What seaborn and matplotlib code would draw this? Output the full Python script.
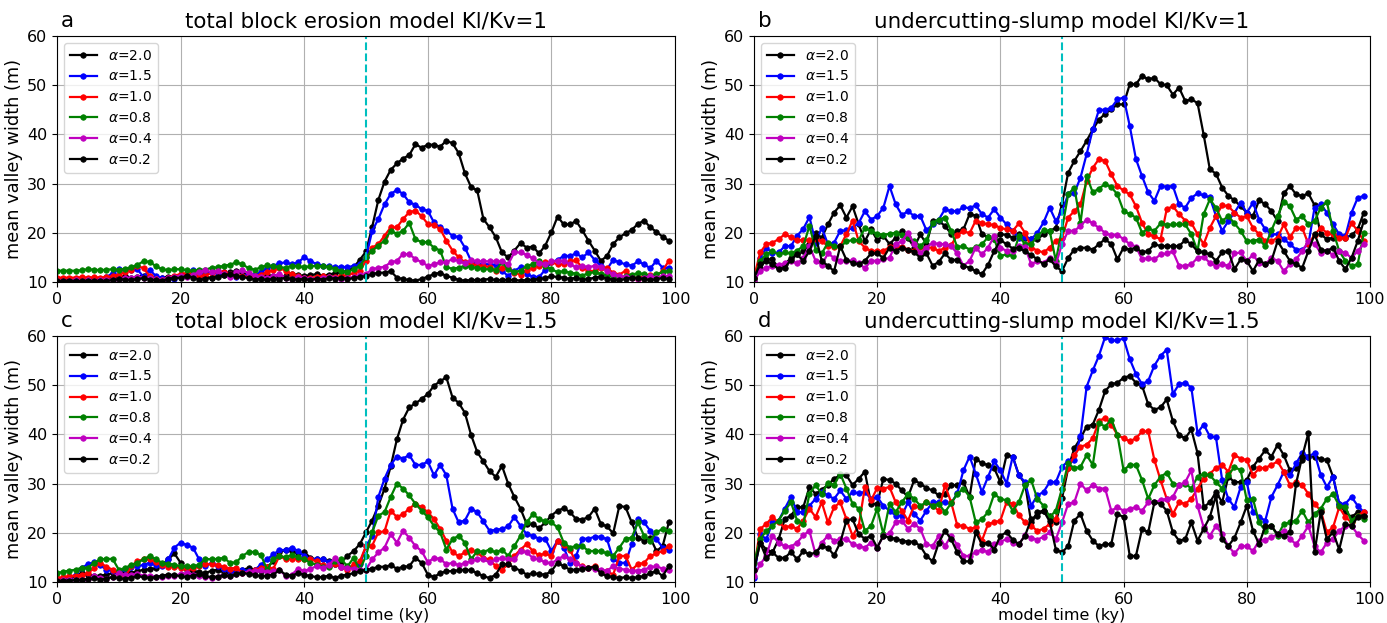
import matplotlib
matplotlib.use("Agg")
import matplotlib.pyplot as plt
import seaborn as sns

# ---------------- data ----------------
TIME = list(range(100))  # model time (ky)
LABELS = [r'$\alpha$=2.0', r'$\alpha$=1.5', r'$\alpha$=1.0',
          r'$\alpha$=0.8', r'$\alpha$=0.4', r'$\alpha$=0.2']
COLORS = ['k', 'b', 'r', 'g', 'm', 'k']
TITLES = ['total block erosion model Kl/Kv=1', 'undercutting-slump model Kl/Kv=1',
          'total block erosion model Kl/Kv=1.5', 'undercutting-slump model Kl/Kv=1.5']
LETTERS = ['a', 'b', 'c', 'd']

# panel a
A20 = [10.4,10.3,10.4,10.3,10.5,10.4,10.6,10.5,10.7,10.9,
       11.0,11.2,10.9,11.1,11.3,11.0,10.8,10.9,11.1,11.0,
       11.2,11.5,12.0,11.3,11.0,10.9,11.2,11.5,12.0,12.2,
       11.8,11.2,10.8,11.0,11.4,11.2,11.0,11.3,11.6,11.4,
       11.2,11.4,11.6,11.3,11.5,11.8,12.0,12.2,13.0,14.5,
       16.2,21.2,26.7,30.4,32.8,34.1,35.1,35.8,38.0,37.3,
       37.9,37.9,37.5,38.7,38.2,36.2,32.1,29.3,28.6,22.8,
       21.1,19.1,16.0,15.0,16.4,17.9,17.0,17.2,15.8,17.4,
       20.1,23.3,21.7,21.7,22.4,20.5,18.4,16.4,14.3,15.3,
       17.7,19.1,19.9,20.6,21.8,22.5,21.1,20.2,19.2,18.4]
A15 = [10.3,10.3,10.4,10.3,10.4,10.5,10.4,10.6,11.0,11.8,
       12.6,12.5,12.4,12.6,11.0,12.5,11.2,10.8,10.6,10.7,
       11.0,11.5,12.4,11.2,11.8,12.0,11.8,12.0,11.6,11.0,
       11.2,11.6,11.4,12.0,12.8,13.3,13.8,14.0,13.6,14.0,
       15.0,14.3,13.6,13.3,13.2,13.0,13.1,13.0,13.3,13.6,
       15.0,20.4,22.8,25.8,27.9,28.7,27.9,26.2,25.7,24.8,
       24.5,22.1,21.1,20.4,19.4,19.1,17.0,14.3,13.6,13.6,
       13.6,13.4,12.3,11.2,12.3,13.0,11.6,11.1,11.0,12.5,
       14.0,14.5,15.3,15.3,15.8,15.0,16.0,14.5,13.3,12.6,
       14.5,14.0,13.6,13.3,14.2,13.6,12.8,14.3,12.9,12.9]
A10 = [10.9,10.9,10.9,10.9,11.0,10.9,11.0,10.9,11.0,11.2,
       11.5,12.0,12.4,13.3,12.8,11.2,10.6,10.5,10.9,11.3,
       11.6,11.8,11.9,11.2,11.4,11.8,12.2,12.0,11.6,11.3,
       11.2,11.0,11.2,11.5,12.0,12.4,12.8,12.3,11.6,11.2,
       10.9,10.8,11.0,11.2,11.1,11.0,11.2,11.4,11.8,12.3,
       14.3,17.0,17.7,19.4,21.1,21.1,22.8,24.2,24.5,23.4,
       21.8,21.5,20.8,18.4,16.4,15.0,14.0,13.6,13.4,13.3,
       13.0,12.3,12.8,12.8,11.9,11.5,12.4,12.9,13.3,14.0,
       14.0,13.6,13.6,14.3,14.4,12.9,12.3,12.2,12.9,12.8,
       11.9,11.5,12.3,11.0,10.6,11.2,11.5,11.2,12.3,14.3]
A08 = [12.3,12.3,12.3,12.3,12.4,12.6,12.5,12.4,12.5,12.6,
       12.5,12.7,13.0,13.5,14.2,14.1,13.2,12.6,12.4,12.6,
       12.6,12.4,12.3,12.5,12.5,12.9,13.0,13.3,13.5,14.0,
       13.6,12.8,12.5,13.0,13.4,13.2,13.0,12.9,13.3,13.2,
       13.0,13.2,13.3,13.2,13.0,12.7,12.2,12.0,12.6,13.3,
       15.0,16.4,17.4,18.4,20.4,19.8,20.4,22.0,18.7,18.1,
       18.1,17.0,16.4,13.0,12.7,12.9,13.3,13.0,12.9,12.6,
       12.6,12.4,14.0,12.6,12.0,12.3,13.3,13.6,14.3,13.2,
       12.6,12.0,12.2,11.9,11.7,11.3,11.8,12.0,11.6,11.4,
       11.0,10.7,11.2,11.5,11.8,11.6,11.3,11.6,12.0,12.3]
A04 = [10.3,10.3,10.3,10.4,10.3,10.4,10.3,10.4,10.5,10.5,
       10.6,10.8,10.9,11.1,10.9,10.8,10.6,10.5,10.8,11.1,
       11.3,11.0,11.5,12.0,12.4,12.0,12.2,11.6,11.0,12.0,
       12.4,11.8,11.3,11.0,10.8,11.2,11.6,10.9,10.7,11.0,
       10.8,10.6,10.7,10.9,11.0,10.8,10.6,10.9,11.0,11.4,
       11.6,12.6,12.9,13.1,14.0,14.3,15.7,15.6,14.7,14.0,
       13.3,13.6,14.0,14.0,14.7,14.3,13.8,14.4,14.2,14.2,
       14.2,14.2,14.2,13.6,16.0,16.0,15.5,14.8,13.9,13.6,
       14.2,14.3,14.3,13.6,13.0,13.3,13.0,13.3,13.0,12.3,
       11.6,11.3,11.0,10.9,10.6,10.9,11.2,10.9,11.2,11.2]
A02 = [10.2,10.2,10.3,10.2,10.2,10.3,10.2,10.3,10.2,10.4,
       10.6,10.5,10.4,10.6,10.8,10.5,10.4,10.3,10.6,10.9,
       10.8,11.3,10.9,10.5,10.6,10.9,11.1,11.4,11.6,11.2,
       11.0,10.8,10.5,10.6,10.4,10.7,10.5,10.9,10.6,10.5,
       10.6,10.4,10.7,10.5,10.8,10.7,10.9,10.6,10.8,11.0,
       11.2,11.6,11.9,11.9,12.2,10.9,10.6,10.4,10.3,10.6,
       11.1,11.6,11.9,11.2,10.9,10.4,10.3,10.4,10.4,10.5,
       10.6,10.4,10.4,10.5,10.4,10.3,10.4,10.5,10.6,10.8,
       11.2,11.0,10.9,10.6,10.9,10.5,10.6,10.9,11.1,10.7,
       10.5,10.4,10.6,10.9,10.8,10.6,10.4,10.6,10.8,10.6]

# panel b
B20 = [10.9,12.9,14.6,14.6,12.8,13.6,14.9,15.6,16.3,17.7,
       20.0,19.0,21.7,24.1,25.6,23.1,25.4,21.7,18.3,20.7,
       18.5,19.4,17.7,19.0,20.4,19.0,17.0,19.7,17.7,22.4,
       22.4,21.4,19.8,20.4,20.7,23.8,23.5,19.7,19.1,18.7,
       19.7,19.6,19.0,19.7,19.0,18.7,18.7,19.7,20.4,21.0,
       25.8,32.2,34.6,36.6,38.7,41.0,43.0,44.2,45.1,46.1,
       46.1,50.2,50.2,51.9,51.2,51.5,50.2,50.0,48.1,49.5,
       46.8,47.1,46.4,39.9,32.9,32.0,29.2,27.5,26.6,25.4,
       24.1,23.4,26.6,25.8,24.4,22.4,28.0,29.5,27.8,27.5,
       28.0,25.6,19.7,18.7,19.0,19.3,19.0,19.5,20.7,24.1]
B15 = [10.9,14.9,17.0,15.8,16.0,17.3,17.3,19.4,20.8,23.2,
       18.0,21.0,17.7,18.0,20.4,20.5,21.0,22.0,24.4,22.7,
       23.4,25.1,29.5,25.8,23.6,24.4,23.4,23.4,20.5,21.7,
       22.7,24.8,24.4,24.4,25.2,25.0,25.6,23.8,23.1,24.8,
       23.1,21.7,20.4,19.0,19.1,18.7,20.0,22.1,25.1,22.4,
       24.4,27.8,28.1,31.2,36.0,41.0,45.0,45.0,45.4,47.1,
       47.5,41.7,35.0,31.5,28.2,26.5,29.5,29.4,29.5,25.8,
       25.1,27.1,28.0,27.6,27.2,23.4,20.4,22.4,24.1,26.1,
       24.1,26.1,22.7,20.7,19.7,19.7,18.7,17.7,16.6,16.6,
       17.7,25.1,25.8,24.1,21.7,19.7,19.3,24.1,27.1,27.5]
B10 = [10.9,16.0,17.7,18.0,18.7,19.7,19.1,18.5,18.5,18.5,
       18.7,18.3,17.3,17.1,17.3,19.7,22.5,18.3,17.0,16.3,
       16.3,16.3,17.1,17.3,17.1,16.6,16.4,17.1,17.0,17.0,
       16.3,17.0,17.5,19.5,20.4,19.9,22.5,22.0,21.7,21.6,
       21.0,20.7,20.4,21.9,20.0,17.0,16.4,16.0,17.0,18.3,
       19.0,23.1,24.4,25.8,30.5,33.2,35.0,34.6,31.9,29.5,
       28.6,27.8,25.4,22.0,19.7,19.3,18.7,24.8,25.4,23.8,
       22.5,22.0,19.7,17.7,21.0,23.4,25.6,25.4,24.1,23.1,
       23.4,21.0,19.7,18.3,18.3,19.0,21.7,19.1,21.0,21.0,
       17.7,19.6,21.0,20.0,19.7,19.0,19.0,22.0,20.4,18.3]
B08 = [10.5,14.3,15.6,16.3,15.6,16.0,15.8,16.4,17.3,21.4,
       16.6,15.8,18.0,17.3,17.1,18.3,18.5,18.5,21.0,20.4,
       19.8,19.6,19.8,20.0,19.6,19.1,18.3,17.3,18.5,22.0,
       22.7,23.1,20.4,17.1,17.3,16.6,17.1,17.7,19.1,18.7,
       15.3,15.6,15.3,19.3,17.7,17.7,19.3,20.5,20.4,14.3,
       20.7,27.8,29.2,22.0,31.5,28.2,29.0,29.9,29.3,27.8,
       24.4,23.8,23.1,20.0,20.9,20.4,21.9,21.6,21.7,21.7,
       21.7,19.7,16.3,23.8,26.8,25.1,22.4,23.4,21.9,20.4,
       18.3,18.4,18.6,17.3,20.5,23.4,26.3,25.4,22.7,23.4,
       21.7,22.4,25.1,26.3,20.4,16.3,14.3,13.3,13.6,20.0]
B04 = [10.2,12.2,12.9,13.3,13.5,13.8,14.2,13.8,14.9,17.3,
       14.3,13.5,15.8,14.9,14.3,14.3,14.4,13.8,12.8,14.3,
       14.3,14.6,14.9,17.7,18.3,20.0,17.7,15.8,17.0,18.0,
       17.7,17.7,17.3,15.8,13.3,14.3,17.0,15.6,17.0,19.3,
       17.0,16.3,16.3,17.3,17.1,13.6,14.3,13.9,14.9,13.6,
       17.7,20.4,20.4,21.4,22.7,21.9,21.0,20.0,19.5,19.6,
       18.7,17.7,17.2,14.6,14.9,14.6,15.6,15.8,16.2,13.3,
       13.3,13.6,14.9,15.1,13.9,13.3,13.6,13.3,15.8,16.0,
       14.3,15.5,13.9,13.6,14.9,14.3,12.2,13.6,14.6,16.3,
       18.3,17.8,15.9,16.3,15.5,16.3,15.9,14.9,16.3,17.7]
B02 = [10.9,13.6,14.3,13.6,12.6,12.9,14.5,15.6,14.3,16.3,
       19.4,14.3,13.3,12.2,17.3,14.5,13.9,13.6,14.3,15.8,
       15.8,14.9,17.0,16.3,17.0,16.6,16.1,14.9,15.8,13.3,
       14.1,15.8,14.5,14.5,13.3,12.9,12.2,11.6,13.5,16.3,
       18.5,17.7,16.8,17.0,16.2,15.5,14.6,13.6,14.6,13.2,
       12.2,14.9,16.6,16.9,17.0,16.6,17.7,18.7,17.7,14.6,
       17.0,16.6,17.0,16.0,16.3,17.7,17.3,17.3,17.3,17.3,
       18.5,17.7,16.2,16.0,15.6,14.3,16.0,16.3,12.6,14.6,
       14.3,12.2,14.5,13.6,14.3,18.3,16.3,14.3,13.6,12.9,
       16.3,19.7,16.6,16.3,17.0,14.3,12.6,14.9,18.3,22.4]

# panel c
C20 = [10.2,10.4,10.5,11.2,11.8,11.5,11.2,11.3,11.5,11.8,
       12.0,12.1,11.8,12.2,12.5,12.6,12.8,13.5,14.6,15.8,
       13.9,12.5,12.2,12.0,11.8,12.3,12.5,12.0,11.8,12.2,
       12.5,12.8,12.5,12.3,13.0,14.2,16.0,16.6,16.3,15.8,
       16.1,14.9,14.6,14.6,14.2,13.6,14.0,15.3,16.3,17.7,
       20.1,22.5,25.5,29.0,33.5,39.0,43.0,45.5,46.3,47.2,
       48.2,49.9,50.8,51.6,47.5,46.4,44.4,39.9,36.4,34.5,
       32.5,31.4,33.6,30.0,27.3,24.9,21.8,21.8,20.9,22.1,
       23.5,24.5,25.0,24.2,22.8,22.7,23.2,24.9,21.8,21.3,
       19.9,25.5,25.2,22.1,19.0,18.4,19.0,16.3,17.3,22.1]
C15 = [10.5,10.6,10.8,11.5,12.9,13.6,14.0,13.4,12.5,12.2,
       12.0,12.6,13.0,13.2,13.5,13.9,13.4,13.2,14.6,17.0,
       18.0,17.5,17.0,14.6,13.2,13.9,13.2,12.7,12.2,11.8,
       12.5,12.2,12.5,13.5,14.6,15.6,16.5,16.5,17.0,16.3,
       15.3,14.6,14.7,14.6,14.0,13.6,13.0,13.0,13.2,13.6,
       17.3,19.4,27.3,31.0,33.8,35.5,35.1,35.8,33.8,33.8,
       34.5,31.7,33.8,31.7,24.9,22.1,22.5,24.9,24.2,22.3,
       20.4,20.6,20.8,21.3,23.2,21.4,19.7,19.4,18.8,18.8,
       16.3,18.4,17.0,13.9,15.3,18.8,18.8,19.2,19.2,18.7,
       14.6,13.9,13.9,17.7,22.8,22.1,20.4,18.7,17.0,16.6]
C10 = [10.8,11.0,11.2,11.3,11.5,11.8,12.8,13.9,13.1,12.5,
       11.8,11.0,13.2,14.2,14.6,14.6,14.0,13.5,13.1,13.1,
       12.9,12.7,12.9,13.2,13.6,13.6,13.4,13.1,12.7,12.9,
       11.8,12.0,12.5,12.9,13.1,12.7,15.3,14.6,14.7,14.7,
       14.6,14.6,14.2,13.4,13.2,13.6,13.1,12.5,13.6,14.2,
       17.3,17.4,20.1,20.3,24.5,23.2,23.8,24.9,25.9,25.2,
       24.2,22.8,20.8,18.4,16.0,15.3,16.0,16.6,16.0,14.9,
       14.6,13.2,12.5,13.6,15.3,16.6,17.7,16.3,15.4,15.8,
       15.3,18.4,17.5,16.6,13.9,13.2,12.9,13.2,12.2,12.2,
       11.5,15.3,15.3,12.5,13.6,13.9,15.3,15.8,16.3,17.3]
C08 = [11.8,12.1,12.3,12.5,12.9,12.9,13.9,14.6,14.7,14.7,
       12.5,12.8,13.5,13.9,14.6,15.3,14.6,13.9,13.7,13.5,
       13.2,13.2,13.2,13.5,14.7,14.6,14.7,14.9,13.9,14.0,
       15.3,16.1,16.1,15.5,12.5,14.6,15.3,15.0,15.5,15.0,
       14.6,13.9,13.5,13.0,13.0,14.2,14.6,13.2,14.9,12.5,
       15.3,20.1,23.5,24.2,27.3,30.0,29.0,27.6,25.9,24.5,
       23.2,21.4,20.1,16.6,18.7,19.4,18.0,14.6,16.3,16.1,
       16.6,16.0,16.6,15.3,17.3,19.4,22.1,23.8,22.8,22.3,
       22.1,21.1,18.0,17.0,17.3,17.3,16.3,16.3,16.3,15.8,
       15.3,17.0,18.8,19.0,22.1,19.4,18.4,20.1,20.8,20.4]
C04 = [10.2,10.4,10.4,10.5,10.5,10.6,11.2,10.8,10.6,11.1,
       11.8,11.4,11.5,11.6,11.3,11.2,11.1,11.0,11.2,11.3,
       11.6,11.8,11.5,11.3,11.0,10.9,11.1,11.5,11.3,11.6,
       11.9,12.1,12.2,12.5,12.0,12.2,12.5,11.2,11.5,12.7,
       12.2,12.7,13.2,12.9,13.4,14.9,13.0,12.8,12.7,12.5,
       12.5,14.6,16.0,17.0,19.7,18.0,20.4,19.0,17.3,16.3,
       14.0,14.9,14.7,13.6,13.9,13.4,13.9,14.2,14.7,14.6,
       14.0,14.6,14.9,14.6,14.6,16.3,16.0,14.9,14.6,14.0,
       13.8,14.6,15.3,14.6,13.9,13.1,12.9,12.7,12.5,12.3,
       13.2,12.7,12.5,12.2,12.3,12.5,13.0,13.2,12.7,12.5]
C02 = [10.2,10.3,10.3,10.4,10.5,10.6,10.8,10.5,10.7,11.0,
       10.8,10.6,10.9,11.2,11.0,10.8,11.0,11.3,11.5,11.4,
       11.2,11.0,11.3,11.6,11.2,11.0,11.1,11.4,11.2,11.6,
       11.9,11.6,11.5,11.2,11.3,11.5,12.4,11.5,11.3,11.8,
       11.5,11.2,11.0,11.0,11.3,10.8,11.3,11.5,11.8,12.2,
       12.5,12.7,13.1,13.1,13.4,12.7,13.1,13.2,14.9,13.9,
       11.5,11.0,11.8,12.2,12.2,12.4,12.5,12.4,11.8,11.2,
       10.8,11.5,13.6,13.6,12.9,12.3,11.5,11.8,11.6,11.5,
       12.2,13.9,13.2,12.5,12.5,12.6,12.9,13.1,11.8,11.2,
       11.0,10.8,11.0,10.8,11.0,11.2,11.8,12.2,11.2,13.2]

# panel d
D20 = [12.5,18.0,16.6,16.0,18.7,22.8,23.5,25.2,25.2,29.3,
       27.9,28.8,29.7,31.0,31.7,31.7,29.7,31.0,32.4,25.9,
       25.9,31.0,30.7,30.0,28.6,27.3,30.7,30.0,29.1,28.6,
       27.6,27.9,29.7,29.7,30.3,27.3,35.1,34.1,33.8,33.1,
       30.3,35.8,35.5,31.7,30.0,22.1,24.2,24.5,23.5,22.1,
       27.0,33.1,37.2,39.2,41.6,42.0,45.0,48.8,50.2,50.5,
       51.5,51.9,50.5,49.9,46.1,45.0,45.5,47.1,42.7,39.9,
       39.2,41.0,36.2,25.2,26.2,28.3,26.2,31.4,30.3,30.3,
       30.7,33.4,35.1,36.8,35.5,37.9,35.8,32.7,33.1,34.8,
       35.5,35.5,35.0,34.8,31.4,25.9,24.2,23.2,24.2,23.5]
D15 = [10.9,19.7,18.7,22.1,22.5,24.9,27.3,24.2,24.2,25.5,
       26.9,28.3,27.6,26.9,28.6,26.9,28.3,28.0,28.3,26.9,
       27.3,25.5,24.5,23.5,23.5,26.2,23.8,22.5,24.5,26.2,
       26.2,26.2,26.0,28.0,32.7,35.5,32.0,28.3,31.4,34.5,
       32.7,30.0,35.5,31.7,30.3,25.5,27.6,28.3,30.3,30.3,
       33.4,34.6,34.8,39.6,49.7,53.0,56.0,59.8,59.1,59.1,
       59.5,55.3,52.3,50.2,50.9,54.0,56.0,57.2,48.2,50.2,
       50.5,49.5,40.3,42.0,39.6,39.4,30.7,26.9,25.2,29.3,
       30.3,24.3,23.2,22.5,27.3,29.7,32.4,31.7,34.1,36.2,
       35.5,36.2,31.8,29.3,31.4,25.9,25.9,27.3,25.5,24.2]
D10 = [12.5,20.8,21.8,23.2,22.1,21.1,21.4,20.8,22.5,24.9,
       23.2,26.2,22.1,25.2,26.2,22.8,19.4,21.4,29.3,26.6,
       29.1,29.0,29.3,26.2,24.5,22.5,25.5,25.2,26.2,25.5,
       24.5,29.7,26.2,21.5,21.4,20.8,21.1,18.4,21.8,22.1,
       22.5,26.2,25.9,23.6,22.1,21.4,20.4,20.8,21.8,22.8,
       29.0,33.1,35.8,37.5,37.9,39.2,42.7,43.4,42.0,39.9,
       39.2,38.6,39.2,40.6,40.6,34.8,30.7,26.9,23.8,26.2,
       25.9,26.9,29.0,31.0,32.0,33.2,33.8,32.4,35.8,35.1,
       34.8,31.7,33.1,33.2,33.8,34.5,32.4,29.7,30.3,29.7,
       27.9,25.9,24.5,20.1,21.1,25.2,23.2,22.1,23.5,24.3]
D08 = [13.9,18.7,20.4,21.4,22.5,24.5,26.2,22.5,21.8,27.9,
       29.7,27.9,30.2,29.7,32.0,29.0,25.9,24.9,20.4,21.4,
       24.9,19.7,25.9,24.2,26.2,27.9,26.9,25.5,26.2,25.5,
       25.9,24.2,26.0,27.9,29.0,27.3,22.1,22.8,24.2,27.9,
       26.9,26.6,24.5,26.2,29.7,30.7,26.9,25.5,23.2,24.5,
       29.0,34.1,33.1,33.4,35.8,33.8,42.3,41.6,43.0,39.9,
       32.7,33.8,33.8,30.7,26.9,29.7,31.4,32.2,30.0,29.7,
       30.0,29.0,31.4,32.0,31.7,30.3,29.0,31.7,33.4,32.7,
       26.6,26.9,22.1,20.4,21.4,19.4,21.8,22.1,22.5,24.5,
       22.1,23.8,24.9,26.9,27.9,25.5,25.2,22.5,23.5,22.8]
D04 = [11.2,13.6,15.3,19.4,18.0,17.3,17.2,18.0,19.5,20.4,
       15.6,18.0,19.4,18.4,18.7,18.8,17.7,17.3,17.0,18.0,
       17.0,19.4,19.9,22.1,22.5,20.8,21.8,20.8,17.7,17.3,
       19.4,17.3,19.4,17.5,15.3,15.3,16.1,16.6,16.0,17.7,
       18.2,18.7,18.0,17.7,19.5,19.0,18.6,19.2,20.1,18.7,
       22.1,25.9,26.2,30.0,28.6,29.8,29.0,29.0,24.5,25.2,
       24.5,24.9,25.2,24.5,26.2,26.2,26.6,26.9,27.3,29.7,
       30.3,32.7,25.5,21.1,19.4,21.4,19.7,17.3,15.8,17.3,
       17.3,16.3,18.4,18.6,19.1,19.7,20.4,18.7,17.7,19.4,
       21.4,17.3,16.0,18.0,18.7,20.4,21.4,21.4,19.7,18.4]
D02 = [12.5,18.0,14.9,16.0,14.9,14.9,16.1,14.6,16.3,15.6,
       16.0,17.3,17.0,15.4,18.0,22.5,22.8,19.7,18.8,19.4,
       17.0,19.4,19.0,18.8,18.4,18.2,18.2,17.3,15.3,14.2,
       18.0,20.4,18.7,16.0,14.2,14.2,20.1,17.7,18.0,16.6,
       19.4,20.1,18.6,17.7,19.4,22.8,23.5,24.5,22.3,16.6,
       16.0,17.3,22.5,23.8,20.4,18.4,17.3,17.7,17.7,23.8,
       23.2,15.3,15.3,20.8,20.1,26.2,25.9,24.5,20.1,18.4,
       18.7,22.1,18.4,20.8,23.2,27.6,18.7,17.3,19.0,22.1,
       25.5,20.4,17.7,21.4,21.4,19.7,19.4,20.1,30.0,35.5,
       40.3,16.0,24.2,18.7,20.1,16.6,21.8,21.4,23.2,23.5]

PANELS = [[A20, A15, A10, A08, A04, A02],
          [B20, B15, B10, B08, B04, B02],
          [C20, C15, C10, C08, C04, C02],
          [D20, D15, D10, D08, D04, D02]]

# ---------------- figure ----------------
plt.rcParams['font.family'] = ['DejaVu Sans']
plt.rcParams['mathtext.fontset'] = 'dejavusans'

W, H = 1387, 623
fig = plt.figure(figsize=(W / 100, H / 100), dpi=100)
boxes = [(57, 36, 675, 282), (754, 36, 1370, 282),
         (57, 336, 675, 582), (754, 336, 1370, 582)]

for i, (series, (x0, y0, x1, y1)) in enumerate(zip(PANELS, boxes)):
    ax = fig.add_axes([x0 / W, 1 - y1 / H, (x1 - x0) / W, (y1 - y0) / H])
    for vals, col, lab in zip(series, COLORS, LABELS):
        sns.lineplot(x=TIME, y=vals, ax=ax, color=col, marker='o',
                     markersize=4, markeredgecolor=col, markeredgewidth=0.5,
                     linewidth=1.6, label=lab, estimator=None, sort=False)
    ax.axvline(50, color='c', linestyle='--', linewidth=1.5)
    ax.set_xlim(0, 100)
    ax.set_ylim(10, 60)
    ax.set_xticks(range(0, 101, 20))
    ax.set_yticks(range(10, 61, 10))
    ax.grid(True, color='#b0b0b0', linewidth=0.8)
    ax.set_axisbelow(True)
    ax.tick_params(labelsize=11.5)
    ax.set_ylabel('mean valley width (m)', fontsize=12.8, labelpad=3)
    if i >= 2:
        ax.set_xlabel('model time (ky)', fontsize=11.5, labelpad=1)
    else:
        ax.set_xlabel('')
    ax.set_title(TITLES[i], fontsize=15.4)
    ax.text(0.006, 1.035, LETTERS[i], transform=ax.transAxes, fontsize=15.4,
            ha='left', va='baseline')
    ax.legend(loc='upper left', fontsize=10, handlelength=2.0)

fig.savefig('out.png', dpi=100)
